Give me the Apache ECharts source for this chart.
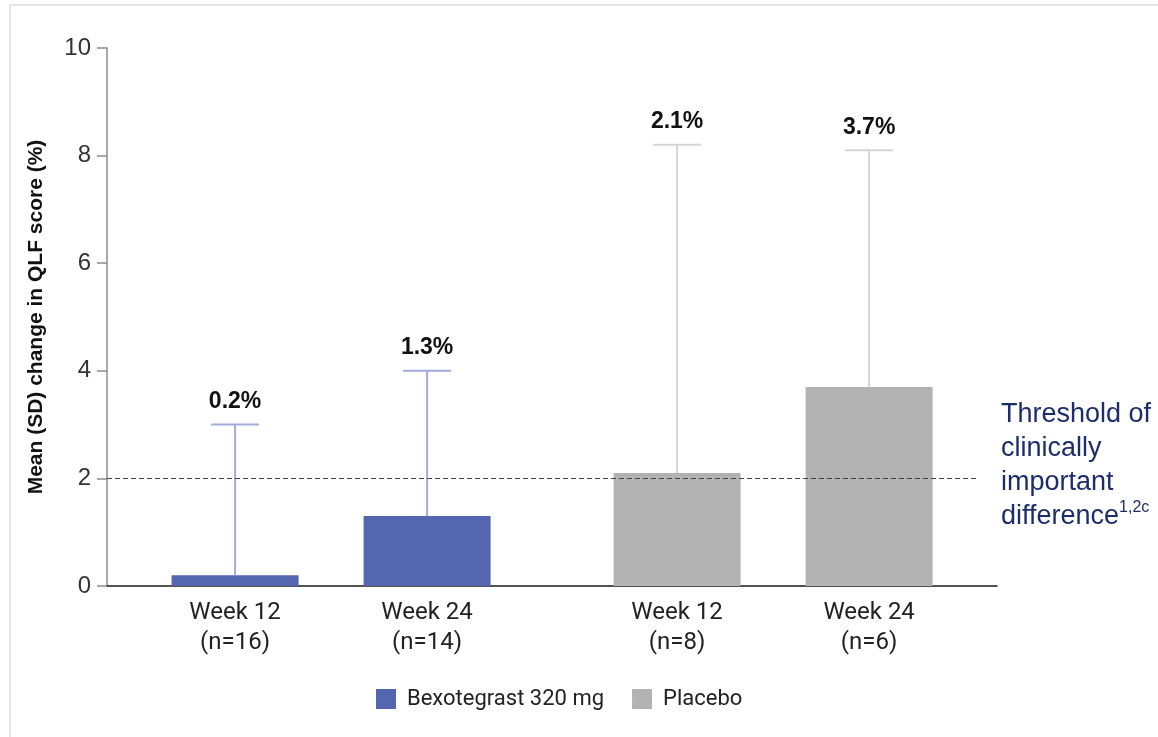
<!DOCTYPE html>
<html>
<head>
<meta charset="utf-8">
<script src="https://cdn.jsdelivr.net/npm/echarts@6/dist/echarts.min.js"></script>
<style>
  html, body { margin: 0; padding: 0; background: #fff; }
  #chart { width: 1158px; height: 737px; }
</style>
</head>
<body>
<div id="chart"></div>
<script>
// ---- data ----
const categories = ['Week 12\n(n=16)', 'Week 24\n(n=14)', 'Week 12\n(n=8)', 'Week 24\n(n=6)'];
const seriesNames = ['Bexotegrast 320 mg', 'Placebo'];
const bexoMean = [0.2, 1.3];
const bexoSD = [2.8, 2.7];
const placeboMean = [2.1, 3.7];
const placeboSD = [6.1, 4.4];
const valueLabels = ['0.2%', '1.3%', '2.1%', '3.7%'];
const yTicks = [0, 2, 4, 6, 8, 10];
const threshold = 2;
const thresholdLines = ['Threshold of', 'clinically', 'important', 'difference'];
const thresholdSup = '1,2c';

// ---- layout helpers ----
const GROUP_GAP = 0.302;
const slot = i => i + 1 + (i >= 2 ? GROUP_GAP : 0);
const X_MIN = 0.333, X_MAX = 4.968, LINE_END = 4.87;

const colors = { bexo: '#5566b0', placebo: '#b3b3b3', bexoErr: '#a2abdd', placeboErr: '#d4d4d4', navy: '#1c2d6b' };

const bexoData = bexoMean.map((v, i) => [slot(i), v]);
const placeboData = placeboMean.map((v, i) => [slot(i + 2), v]);
const allMean = bexoMean.concat(placeboMean);
const allSD = bexoSD.concat(placeboSD);
const errData = allMean.map((v, i) => [slot(i), v, allSD[i], i]);
const tickPositions = categories.map((c, i) => slot(i));

const chart = echarts.init(document.getElementById('chart'), null, { renderer: 'canvas' });

const thresholdRich = thresholdLines.map((l, i) =>
  '{a|' + l + '}' + (i === thresholdLines.length - 1 ? '{s|' + thresholdSup + '}' : '')).join('\n');

const option = {
  backgroundColor: '#fff',
  animation: false,
  grid: { left: 107, right: 161, top: 48, bottom: 151, containLabel: false, outerBoundsMode: 'none' },
  legend: {
    left: 371, top: 683,
    itemWidth: 20, itemHeight: 20, itemGap: 28,
    icon: 'rect',
    textStyle: { fontFamily: 'Roboto', fontSize: 22, color: '#222', padding: [0, 0, 0, 6] },
    data: seriesNames
  },
  xAxis: {
    type: 'value', min: X_MIN, max: X_MAX,
    axisLine: { show: true, onZero: false, lineStyle: { color: '#1a1a1a', width: 1.5 } },
    axisTick: { show: false },
    splitLine: { show: false },
    axisLabel: {
      customValues: tickPositions,
      formatter: v => {
        let best = 0, d = Infinity;
        tickPositions.forEach((p, i) => { if (Math.abs(p - v) < d) { d = Math.abs(p - v); best = i; } });
        return categories[best];
      },
      fontFamily: 'Roboto', fontSize: 24, color: '#222', lineHeight: 30, margin: 12
    }
  },
  yAxis: {
    type: 'value', min: 0, max: 10, interval: 2,
    name: 'Mean (SD) change in QLF score (%)',
    nameLocation: 'middle', nameGap: 60, nameRotate: 90,
    nameTextStyle: { fontFamily: 'Liberation Sans', fontWeight: 'bold', fontSize: 21, color: '#111' },
    axisLine: { show: true, lineStyle: { color: '#8c8c8c', width: 1.5 } },
    axisTick: { show: true, inside: false, length: 10, lineStyle: { color: '#8c8c8c', width: 1.5 } },
    splitLine: { show: false },
    axisLabel: {
      formatter: v => yTicks.includes(v) ? String(v) : '',
      fontFamily: 'Liberation Sans', fontSize: 24, color: '#333', margin: 16
    }
  },
  series: [
    {
      name: seriesNames[0], type: 'bar', data: bexoData, barWidth: 127, barGap: '-100%',
      itemStyle: { color: colors.bexo }, z: 2,
      markLine: {
        silent: true, symbol: 'none', label: { show: false },
        lineStyle: { type: [5, 3], color: '#444', width: 1.2 },
        data: [[{ coord: [X_MIN, threshold] }, { coord: [LINE_END, threshold] }]]
      }
    },
    {
      name: seriesNames[1], type: 'bar', data: placeboData, barWidth: 127, barGap: '-100%',
      itemStyle: { color: colors.placebo }, z: 2
    },
    {
      type: 'custom', z: 3, silent: true,
      data: errData,
      renderItem: (params, api) => {
        const x = api.value(0), m = api.value(1), sd = api.value(2), idx = api.value(3);
        const p0 = api.coord([x, m]);
        const p1 = api.coord([x, m + sd]);
        const c = idx < 2 ? colors.bexoErr : colors.placeboErr;
        const style = { stroke: c, lineWidth: 2 };
        return {
          type: 'group',
          children: [
            { type: 'line', shape: { x1: p0[0], y1: p0[1], x2: p1[0], y2: p1[1] }, style },
            { type: 'line', shape: { x1: p1[0] - 24, y1: p1[1], x2: p1[0] + 24, y2: p1[1] }, style },
            { type: 'text', x: p1[0], y: p1[1] - 23,
              style: { text: valueLabels[idx], textAlign: 'center', textVerticalAlign: 'middle',
                       font: 'bold 23px "Liberation Sans"', fill: '#111' } }
          ]
        };
      }
    }
  ],
  graphic: [
    { type: 'rect', shape: { x: 10, y: 5, width: 1400, height: 900 }, silent: true,
      style: { fill: 'none', stroke: '#e6e6e6', lineWidth: 2 }, z: -10 },
    { type: 'text', left: 1001, top: 401, silent: true,
      style: {
        text: thresholdRich,
        fill: colors.navy,
        rich: {
          a: { fontFamily: 'Liberation Sans', fontSize: 27, fill: colors.navy, lineHeight: 34 },
          s: { fontFamily: 'Liberation Sans', fontSize: 16, fill: colors.navy, lineHeight: 34, verticalAlign: 'top', padding: [0, 0, 10, 0] }
        }
      }
    }
  ]
};
chart.setOption(option);
</script>
</body>
</html>
